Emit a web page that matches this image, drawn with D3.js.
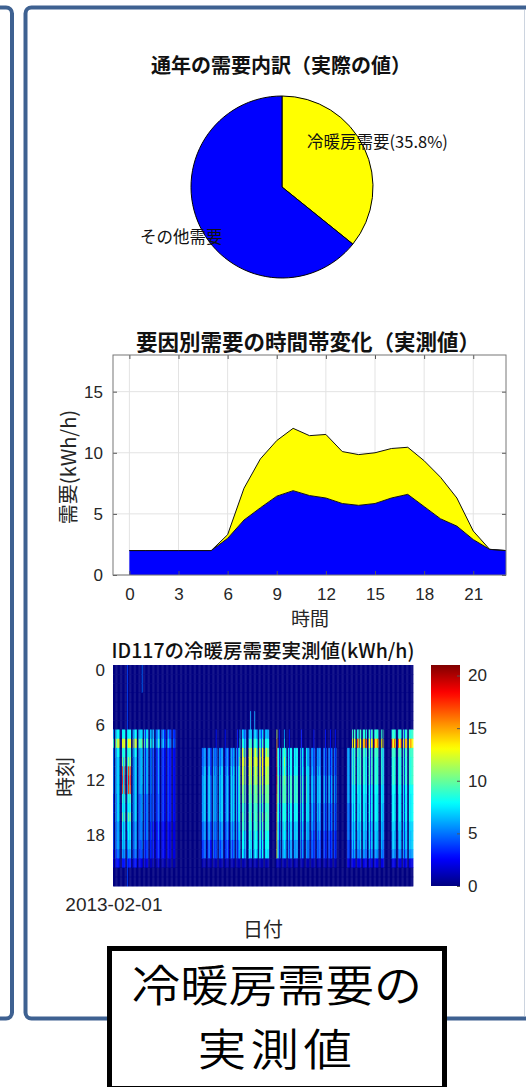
<!DOCTYPE html>
<html lang="ja">
<head>
<meta charset="utf-8">
<title>冷暖房需要の実測値</title>
<script src="https://cdn.jsdelivr.net/npm/d3@7/dist/d3.min.js"></script>
<style>
html,body{margin:0;padding:0;background:#fff;}
svg{display:block;}
</style>
</head>
<body>
<svg id="chart" width="526" height="1087"></svg>
<script>
// ---- pie: yearly breakdown ----
const pieLabels = ["冷暖房需要", "その他需要"];
const pieShares = [35.8, 64.2];
const pieColors = ["#ffff00", "#0000ff"];

// ---- stacked area: hourly demand by factor (kWh/h) ----
const hours = [0,1,2,3,4,5,6,7,8,9,10,11,12,13,14,15,16,17,18,19,20,21,22,23];
const otherDemand = [2.0,2.0,2.0,2.0,2.0,2.0,3.0,4.5,5.5,6.45,6.9,6.5,6.3,5.85,5.7,5.85,6.3,6.6,5.6,4.6,4.0,2.9,2.1,2.0];
const hvacDemand  = [0,0,0,0,0,0,0.3,2.6,4.0,4.55,5.1,4.9,5.2,4.25,4.15,4.15,4.05,3.85,3.75,3.4,2.3,0.7,0,0];
const areaXTicks = [0,3,6,9,12,15,18,21];
const areaYTicks = [0,5,10,15];

// ---- heatmap: daily hourly HVAC demand, ID117, from 2013-02-01 ----
// Hourly profiles (hour 0..23), one character per hour: 0-9 then a=10 ... k=20 kWh/h
const dayProfiles = {
  Z: "000000000000000000000000",
  A: "00000008c877777776665300",
  P: "00000008d9bhih98a8876300",
  Q: "000000069555554444443200",
  B: "000000079666665555544200",
  C: "000000067444444443333100",
  D: "000000045333333332222100",
  L: "000000033222222222222100",
  V: "444444479777766666554444",
  X: "55500008b888877776665200",
  E: "000000000667777776655100",
  F: "000000000444555554433100",
  T: "000000068acbbaa999887100",
  G: "000000079dddcba9a9988100",
  Y: "000006679bbaa99988776100",
  R: "0000000cfhhiihggffeed200",
  U: "000000000888999887766100",
  S: "000000000555666555444100",
  W: "00000009d999988887776200",
  H: "00000008h988887777665200",
  I: "000000000666666555544200"
};
// Calendar, one string per week (Fri..Thu), one profile letter per day
const calendarWeeks = [
  "QZZAQAA","AZZZPAA","PZZVPPA","PZZALAA","AZZBQBB","XZZBLBB","BZZCBZC","CZZCLCB",
  "CZZCDCL","DZZDCDD","DZZDLDZ","ZZZZZZZ","ZZZZZZZ","ZZZZZZZ","ZZZZZZZ","ZZZFEFE",
  "EZZFEEF","FZZEFEL","EZZEFEE","EZZLEFE","FZZEEFE","EZZELEE","TZZGTTL","TZZZGTY",
  "GZZTYGT","TZZGTLG","GZZTGTT","TZZZZZZ","ZZZRUUL","UZZUUTU","UZZULUU","UZZUUEU",
  "UZZZULU","EZZZUEE","EZZSESL","SZZESSE","SZZZSSL","SZZSSLS","SZZSLSZ","ZZZZZZZ",
  "ZZZZZII","IZZIWIW","WZZHWIW","WZZWHWI","HZZWWLW","WZZHWWH","WZZZWIW","IZZZZZZ",
  "ZZZHWWH","WZZZHWW","HZZWLWH","WZZWWHW","W"
];
const heatDateLabel = "2013-02-01";
const heatYTicks = [0,6,12,18];
const colorTicks = [0,5,10,15,20];
const colorMax = 21;

const JP = '"Noto Sans CJK JP","Noto Sans",sans-serif';
const NUM = '"Liberation Sans","DejaVu Sans",sans-serif';
const INK = "#262626";
const FRAME = "#3e6191";

const svg = d3.select("#chart");

// ---- slide frames ----
svg.append("rect").attr("x", -100).attr("y", 7.5).attr("width", 112).attr("height", 1011)
  .attr("rx", 6).attr("fill", "none").attr("stroke", FRAME).attr("stroke-width", 4);
svg.append("rect").attr("x", 25.5).attr("y", 7.5).attr("width", 510).attr("height", 1011)
  .attr("rx", 6).attr("fill", "none").attr("stroke", FRAME).attr("stroke-width", 4);
svg.append("line").attr("x1", 524.5).attr("x2", 524.5).attr("y1", 10).attr("y2", 1016)
  .attr("stroke", "#ccd4df").attr("stroke-width", 1);

function txt(g, x, y, s, size, opts = {}) {
  return g.append("text").attr("x", x).attr("y", y).text(s)
    .attr("font-family", opts.family || JP).attr("font-size", size)
    .attr("font-weight", opts.weight || 400).attr("fill", opts.fill || "#000")
    .attr("text-anchor", opts.anchor || "middle").attr("dominant-baseline", "central");
}

// ---- pie chart ----
txt(svg, 281, 64, "通年の需要内訳（実際の値）", 20, {weight: 700, fill: "#111"});
const pieG = svg.append("g").attr("transform", "translate(282,187)");
const pieArcs = d3.pie().sort(null).value(d => d.v)(pieLabels.map((l, i) => ({l, v: pieShares[i]})));
const arc = d3.arc().innerRadius(0).outerRadius(91);
pieG.selectAll("path").data(pieArcs).join("path")
  .attr("d", arc).attr("fill", (d, i) => pieColors[i])
  .attr("stroke", "#000").attr("stroke-width", 1);
txt(svg, 307, 141, `${pieLabels[0]}(${pieShares[0]}%)`, 16.5, {anchor: "start", fill: "#111"});
txt(svg, 140, 236, pieLabels[1], 16.5, {anchor: "start", fill: "#111"});

// ---- stacked area chart ----
const ax = d3.scaleLinear().domain([-1, 23]).range([113, 506]);
const ay = d3.scaleLinear().domain([0, 18]).range([575, 355]);
txt(svg, 308, 340, "要因別需要の時間帯変化（実測値）", 21.5, {weight: 700, fill: "#111"});
const areaG = svg.append("g");
areaG.append("rect").attr("x", ax(-1)).attr("y", ay(18)).attr("width", ax(23) - ax(-1))
  .attr("height", ay(0) - ay(18)).attr("fill", "#fff");
areaG.selectAll("line.gx").data(areaXTicks).join("line").attr("class", "gx")
  .attr("x1", d => ax(d)).attr("x2", d => ax(d)).attr("y1", ay(0)).attr("y2", ay(18))
  .attr("stroke", "#e3e3e3").attr("stroke-width", 1);
areaG.selectAll("line.gy").data(areaYTicks).join("line").attr("class", "gy")
  .attr("x1", ax(-1)).attr("x2", ax(23)).attr("y1", d => ay(d)).attr("y2", d => ay(d))
  .attr("stroke", "#e3e3e3").attr("stroke-width", 1);

const rows = hours.map((h, i) => ({h, other: otherDemand[i], hvac: hvacDemand[i]}));
const stacked = d3.stack().keys(["other", "hvac"])(rows);
const areaColors = ["#0000ff", "#ffff00"];
const areaGen = d3.area().x(d => ax(d.data.h)).y0(d => ay(d[0])).y1(d => ay(d[1]));
const lineGen = d3.line().x(d => ax(d.data.h)).y(d => ay(d[1]));
areaG.selectAll("path.ar").data(stacked).join("path").attr("class", "ar")
  .attr("d", areaGen).attr("fill", (d, i) => areaColors[i]);
areaG.selectAll("path.ln").data(stacked.slice().reverse()).join("path").attr("class", "ln")
  .attr("d", lineGen).attr("fill", "none").attr("stroke", "#111").attr("stroke-width", 1);

function styleAxis(g, size) {
  g.select(".domain").remove();
  g.selectAll(".tick line").attr("stroke", "#555");
  g.selectAll(".tick text").attr("font-family", NUM).attr("font-size", size).attr("fill", INK);
}
const axB = areaG.append("g").attr("transform", `translate(0,${ay(0)})`)
  .call(d3.axisBottom(ax).tickValues(areaXTicks).tickSizeInner(-4).tickSizeOuter(0).tickPadding(13));
styleAxis(axB, 17);
const axL = areaG.append("g").attr("transform", `translate(${ax(-1)},0)`)
  .call(d3.axisLeft(ay).tickValues(areaYTicks).tickSizeInner(-4).tickSizeOuter(0).tickPadding(10));
styleAxis(axL, 17);
const axT = areaG.append("g").attr("transform", `translate(0,${ay(18)})`)
  .call(d3.axisTop(ax).tickValues(areaXTicks).tickSizeInner(-4).tickSizeOuter(0).tickFormat(""));
styleAxis(axT, 0);
const axR = areaG.append("g").attr("transform", `translate(${ax(23)},0)`)
  .call(d3.axisRight(ay).tickValues(areaYTicks).tickSizeInner(-4).tickSizeOuter(0).tickFormat(""));
styleAxis(axR, 0);
areaG.append("rect").attr("x", ax(-1)).attr("y", ay(18)).attr("width", ax(23) - ax(-1))
  .attr("height", ay(0) - ay(18)).attr("fill", "none").attr("stroke", "#777").attr("stroke-width", 1);
txt(svg, 310, 617, "時間", 19, {fill: INK});
txt(svg, 0, 0, "需要(kWh/h)", 20, {fill: INK}).attr("transform", "translate(67,467) rotate(-90)");

// ---- heatmap ----
function jet(t) {
  t = Math.max(0, Math.min(1, t));
  const c = v => Math.round(255 * Math.max(0, Math.min(1, v)));
  return `rgb(${c(1.5 - Math.abs(4 * t - 3))},${c(1.5 - Math.abs(4 * t - 2))},${c(1.5 - Math.abs(4 * t - 1))})`;
}
const dayLetters = calendarWeeks.join("").split("");
const nDays = dayLetters.length;
const hx = d3.scaleLinear().domain([-0.5, nDays - 0.5]).range([113, 413]);
const hy = d3.scaleLinear().domain([-0.5, 23.5]).range([665, 886]);
const color = v => jet(v / colorMax);
const cells = [];
dayLetters.forEach((p, d) => {
  const prof = dayProfiles[p];
  for (let h = 0; h < 24; h++) cells.push({d, h, v: parseInt(prof[h], 36)});
});
txt(svg, 263, 649, "ID117の冷暖房需要実測値(kWh/h)", 19.5, {weight: 500, fill: "#111"});
const heatG = svg.append("g");
heatG.selectAll("rect").data(cells).join("rect")
  .attr("x", d => hx(d.d - 0.5)).attr("y", d => hy(d.h - 0.5))
  .attr("width", hx(1) - hx(0) + 0.4).attr("height", hy(1) - hy(0) + 0.4)
  .attr("fill", d => color(d.v));
const hyAxis = svg.append("g").attr("transform", "translate(113,0)")
  .call(d3.axisLeft(hy).tickValues(heatYTicks).tickSizeInner(0).tickSizeOuter(0).tickPadding(8));
styleAxis(hyAxis, 17);
const hxAxis = svg.append("g").attr("transform", "translate(0,886)")
  .call(d3.axisBottom(hx).tickValues([0]).tickFormat(() => heatDateLabel).tickSizeInner(0).tickSizeOuter(0).tickPadding(12));
styleAxis(hxAxis, 19);
hxAxis.selectAll(".tick text").attr("text-anchor", "middle");
txt(svg, 263, 928, "日付", 20, {fill: INK});
txt(svg, 0, 0, "時刻", 20, {fill: INK}).attr("transform", "translate(64,777) rotate(-90)");

// colorbar
const cy = d3.scaleLinear().domain([0, colorMax]).range([886, 665]);
const defs = svg.append("defs");
const grad = defs.append("linearGradient").attr("id", "jetGrad")
  .attr("x1", 0).attr("y1", 1).attr("x2", 0).attr("y2", 0);
grad.selectAll("stop").data(d3.range(0, 1.0001, 0.02)).join("stop")
  .attr("offset", d => d).attr("stop-color", d => jet(d));
svg.append("rect").attr("x", 431).attr("y", cy(colorMax)).attr("width", 29)
  .attr("height", cy(0) - cy(colorMax)).attr("fill", "url(#jetGrad)");
const cAxis = svg.append("g").attr("transform", "translate(460,0)")
  .call(d3.axisRight(cy).tickValues(colorTicks).tickSizeInner(-3).tickSizeOuter(0).tickPadding(8));
styleAxis(cAxis, 17);

// ---- caption box ----
svg.append("rect").attr("x", 109.5).attr("y", 948.5).attr("width", 335).attr("height", 140)
  .attr("fill", "#fff").attr("stroke", "#000").attr("stroke-width", 5);
txt(svg, 0, 0, "冷暖房需要の", 44, {weight: 350}).attr("transform", "translate(277,982) scale(1.1,1)");
txt(svg, 0, 0, "実測値", 44, {weight: 350}).attr("letter-spacing", 4)
  .attr("transform", "translate(277,1046) scale(1.1,1)");
</script>
</body>
</html>
